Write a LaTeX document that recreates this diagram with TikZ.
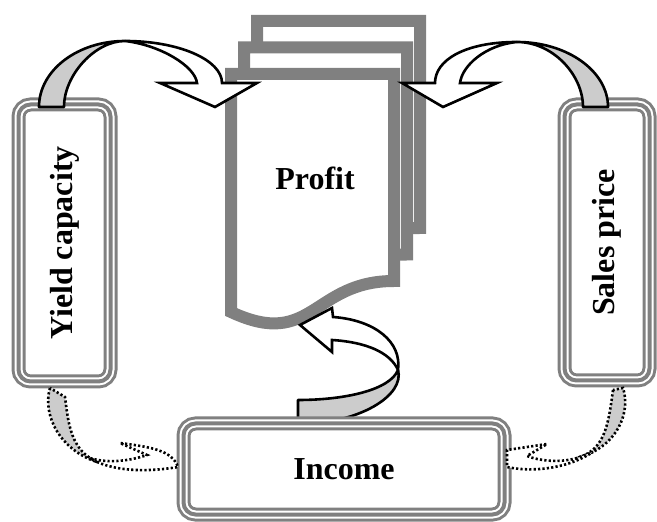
\documentclass[tikz,border=0pt]{standalone}
\usepackage{fontspec}
\setmainfont{Liberation Serif}
\usepackage{tikz}
\definecolor{bordergray}{HTML}{808080}
\definecolor{ribbongray}{HTML}{CCCCCC}

\begin{document}
\begin{tikzpicture}[x=0.5pt,y=-0.5pt,
	txt/.style={font=\fontsize{16}{19}\selectfont\bfseries},
	box/.style={txt,draw=bordergray,line width=7pt,rounded corners=6pt,fill=white,inner sep=0pt,postaction={draw=white,double=bordergray,line width=1pt,double distance=2pt}},
	page/.style={draw=bordergray,line width=6pt,fill=white},
	under/.style={draw,line width=1.3pt,fill=ribbongray,line join=round},
	over/.style={draw,line width=1.3pt,fill=white},
	dots/.style={draw,line width=1.3pt,dash pattern=on 1.1pt off 1.1pt}]
	\useasboundingbox (0,0) rectangle (657,522);
	\foreach \dx/\dy in {26/-53,13/-26.5,0/0}
		\draw[page,shift={(\dx,\dy)}] (231,74) -- (394,74) -- (394,281) .. controls (312.5,281) and (312.5,350) .. (231,312) -- cycle;
	\node[txt] (profit) at (315,178) {Profit};
	\node[box,rotate=90,minimum width=138.5pt,minimum height=46pt] (yield) at (64.5,243) {Yield capacity};
	\node[box,rotate=90,minimum width=138pt,minimum height=42.5pt] (sales) at (607,242.5) {Sales price};
	\draw[under] (39,107) .. controls (39,70) and (78,41) .. (125,41) .. controls (95,41) and (64,75) .. (64,107) -- cycle;
	\draw[over] (125,41) .. controls (179,41) and (222,60) .. (222,83) -- (257,83) -- (215,107) -- (160,83) -- (197,83) .. controls (195,66) and (160,45) .. (125,41) -- cycle;
	\draw[under] (608,107) .. controls (608,71) and (567,42) .. (517,42) .. controls (553,42) and (583,75) .. (583,107) -- cycle;
	\draw[over] (517,42) .. controls (465,42) and (435,60) .. (435,83) -- (402,83) -- (443,107) -- (497,83) -- (460,83) .. controls (462,66) and (485,45) .. (517,42) -- cycle;
	\draw[under] (298,400) .. controls (345,400) and (390,390) .. (398,370) .. controls (405,395) and (360,424) .. (298,424) -- cycle;
	\draw[over] (333,317) .. controls (375,320) and (402,342) .. (398,370) .. controls (390,352) and (365,342) .. (332,340) -- (332,352) -- (300,325) -- (332,308) -- cycle;
	\node[box,minimum width=160.5pt,minimum height=45.5pt] (income) at (344,469) {Income};
	\draw[dots,fill=ribbongray] (50,388) .. controls (42,415) and (60,450) .. (97,462) -- (90,458) .. controls (70,445) and (68,420) .. (65,397) -- cycle;
	\draw[dots,fill=white] (97,462) .. controls (125,474) and (160,470) .. (178,467) .. controls (172,450) and (150,447) .. (120,443) -- (147,455) .. controls (127,462) and (105,463) .. (90,458) -- cycle;
	\draw[dots,fill=ribbongray] (613,390) .. controls (608,428) and (604,450) .. (577,458) -- (593,452) .. controls (620,438) and (630,410) .. (623,388) -- cycle;
	\draw[dots,fill=white] (577,458) .. controls (560,463) and (540,461) .. (527,456) -- (547,444) -- (507,450) -- (507,467) .. controls (530,472) and (565,470) .. (593,452) -- cycle;
\end{tikzpicture}
\end{document}
